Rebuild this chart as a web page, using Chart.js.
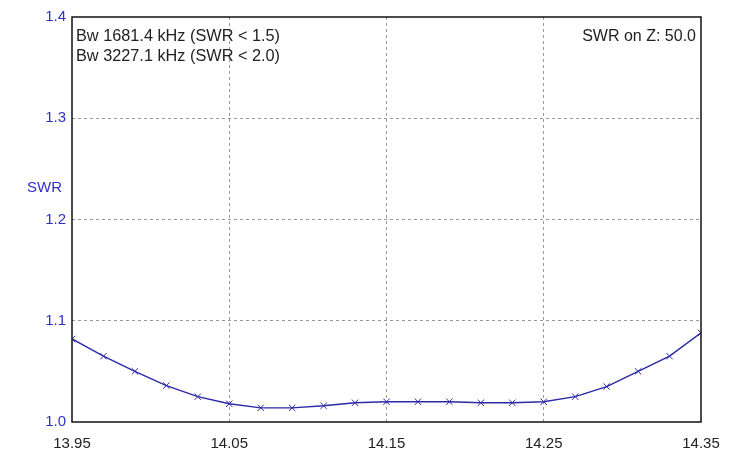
<!DOCTYPE html>
<html>
<head>
<meta charset="utf-8">
<script src="https://cdn.jsdelivr.net/npm/chart.js@4/dist/chart.umd.min.js"></script>
<style>
  html, body { margin: 0; padding: 0; background: #fff; }
  #wrap { width: 740px; height: 457px; position: relative; }
</style>
</head>
<body>
<div id="wrap"><canvas id="swr_chart"></canvas></div>
<script>
// frequency in MHz, swr
const freqs = [13.95, 13.97, 13.99, 14.01, 14.03, 14.05, 14.07, 14.09, 14.11, 14.13,
  14.15, 14.17, 14.19, 14.21, 14.23, 14.25, 14.27, 14.29, 14.31, 14.33, 14.35];
const swr = [1.082, 1.065, 1.050, 1.036, 1.025, 1.018, 1.014, 1.014, 1.016, 1.019,
  1.020, 1.020, 1.020, 1.019, 1.019, 1.020, 1.025, 1.035, 1.050, 1.065, 1.088];
const x_ticks = [13.95, 14.05, 14.15, 14.25, 14.35];
const y_ticks = [1.0, 1.1, 1.2, 1.3, 1.4];
const notes_left = ["Bw 1681.4 kHz (SWR < 1.5)", "Bw 3227.1 kHz (SWR < 2.0)"];
const note_right = "SWR on Z: 50.0";
const y_title = "SWR";

const font_name = "'Liberation Sans', Arial, sans-serif";
// hide the grid lines that sit on the frame
const grid_color = (ctx) => {
  const n = ctx.scale.ticks.length;
  return ctx.index === 0 || ctx.index === n - 1 ? "rgba(0,0,0,0)" : "#999";
};

// frame + texts
const frame_plugin = {
  id: "frame",
  afterDraw(chart) {
    const { ctx, chartArea: a } = chart;
    ctx.save();
    ctx.strokeStyle = "#111";
    ctx.lineWidth = 1.5;
    ctx.strokeRect(a.left, a.top, a.right - a.left, a.bottom - a.top);

    ctx.fillStyle = "#222";
    ctx.font = "16.3px " + font_name;
    ctx.textBaseline = "middle";
    ctx.textAlign = "left";
    notes_left.forEach((t, i) => ctx.fillText(t, a.left + 4, a.top + 20 + i * 20));
    ctx.font = "16px " + font_name;
    ctx.textAlign = "right";
    ctx.fillText(note_right, a.right - 5, a.top + 20);

    ctx.font = "15px " + font_name;
    ctx.fillStyle = "#3030c8";
    ctx.fillText(y_title, 62, 188);
    ctx.restore();
  }
};

new Chart(document.getElementById("swr_chart"), {
  type: "line",
  data: {
    datasets: [{
      data: freqs.map((f, i) => ({ x: f, y: swr[i] })),
      borderColor: "#2a2aa6",
      borderWidth: 1.4,
      pointStyle: "crossRot",
      pointRadius: 4.5,
      pointBorderColor: "#2a2aa6",
      pointBorderWidth: 1,
      tension: 0,
      fill: false
    }]
  },
  options: {
    responsive: true,
    maintainAspectRatio: false,
    animation: false,
    layout: { padding: { left: 0, top: 17, right: 39, bottom: 0 } },
    plugins: { legend: { display: false }, tooltip: { enabled: false } },
    scales: {
      x: {
        type: "linear",
        min: 13.95,
        max: 14.35,
        afterFit: (s) => { s.height = 35; },
        afterBuildTicks: (s) => { s.ticks = x_ticks.map((v) => ({ value: v })); },
        border: { display: false, dash: [3, 3] },
        grid: { color: grid_color, drawTicks: false, lineWidth: 1 },
        ticks: {
          color: "#222",
          padding: 13,
          font: { family: font_name, size: 15 },
          callback: (v) => v.toFixed(2)
        }
      },
      y: {
        min: 1.0,
        max: 1.4,
        afterFit: (s) => { s.width = 72; },
        afterBuildTicks: (s) => { s.ticks = y_ticks.map((v) => ({ value: v })); },
        border: { display: false, dash: [3, 3] },
        grid: { color: grid_color, drawTicks: false, lineWidth: 1 },
        ticks: {
          color: "#3030c8",
          padding: 6,
          font: { family: font_name, size: 15 },
          callback: (v) => v.toFixed(1)
        }
      }
    }
  },
  plugins: [frame_plugin]
});
</script>
</body>
</html>
